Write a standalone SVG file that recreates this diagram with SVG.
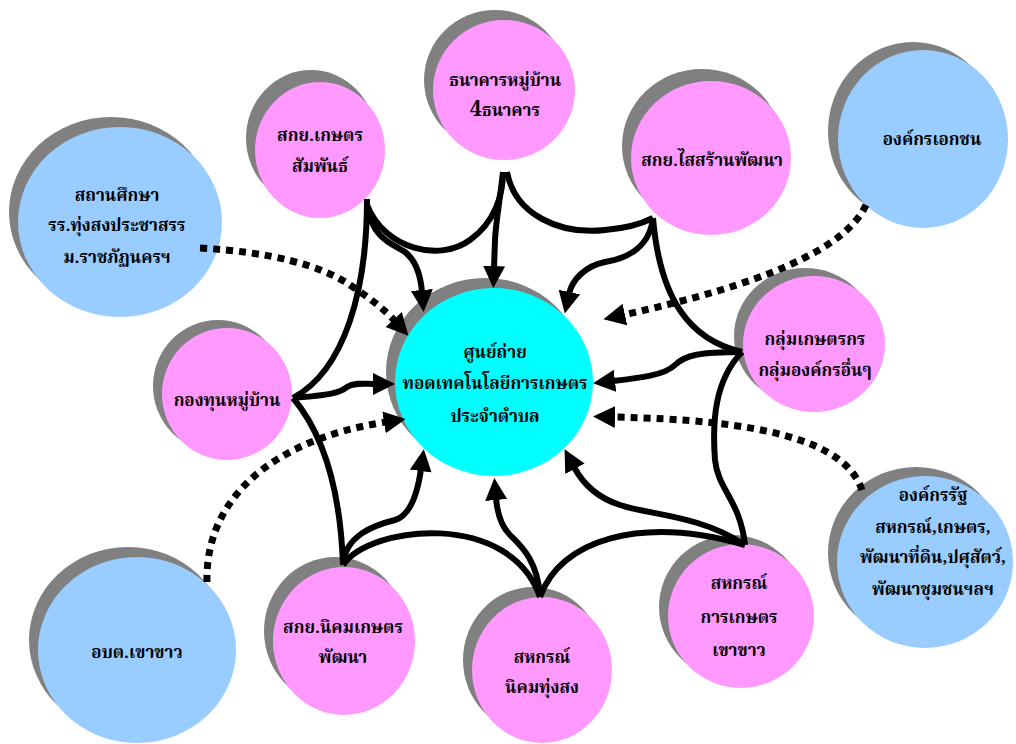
<svg xmlns="http://www.w3.org/2000/svg" width="1016" height="744" viewBox="0 0 1016 744">
<defs>
<style>
.sh{fill:#808080}
.pk{fill:#FF99FF}
.bl{fill:#99CCFF}
.cy{fill:#00FFFF}
text{font-family:"Noto Serif Thai","Noto Sans Thai Looped","Noto Sans Thai","Liberation Serif",serif;font-weight:bold;font-size:17px;fill:#000;text-anchor:middle}
.ln{fill:none;stroke:#000;stroke-width:6}
.dt{fill:none;stroke:#000;stroke-width:7;stroke-dasharray:7 6}
</style>
<marker id="ah" markerUnits="userSpaceOnUse" markerWidth="24" markerHeight="24" refX="2" refY="11" orient="auto" viewBox="0 0 24 22">
<path d="M0,0 L22,11 L0,22 z" fill="#000"/>
</marker>
</defs>
<rect width="1016" height="744" fill="#fff"/>

<g id="n-sathansueksa">
<ellipse class="sh" cx="111" cy="212" rx="102" ry="95"/>
<ellipse class="bl" cx="120" cy="222" rx="102" ry="95"/>
<text x="117" y="201">สถานศึกษา</text>
<text x="117" y="231">รร.ทุ่งสงประชาสรร</text>
<text x="117" y="263">ม.ราชภัฏนครฯ</text>
</g>

<g id="n-sakoy-kaset">
<ellipse class="sh" cx="311" cy="138" rx="65" ry="68"/>
<ellipse class="pk" cx="320" cy="150" rx="65" ry="68"/>
<text x="320" y="141">สกย.เกษตร</text>
<text x="320" y="172">สัมพันธ์</text>
</g>

<g id="n-thanakhan">
<ellipse class="sh" cx="495" cy="80" rx="71" ry="70"/>
<ellipse class="pk" cx="504" cy="90" rx="71" ry="70"/>
<text x="505" y="86">ธนาคารหมู่บ้าน</text>
<text x="505" y="116"><tspan font-size="21">4</tspan>ธนาคาร</text>
</g>

<g id="n-sakoy-saisan">
<ellipse class="sh" cx="702" cy="146" rx="80" ry="77"/>
<ellipse class="pk" cx="711" cy="158" rx="80" ry="77"/>
<text x="712" y="166">สกย.ไสสร้านพัฒนา</text>
</g>

<g id="n-ongkon-ekachon">
<ellipse class="sh" cx="913" cy="131" rx="85" ry="89"/>
<ellipse class="bl" cx="923" cy="139" rx="85" ry="89"/>
<text x="932" y="145">องค์กรเอกชน</text>
</g>

<g id="n-kongthun">
<ellipse class="sh" cx="218" cy="386" rx="65" ry="66"/>
<ellipse class="pk" cx="227" cy="394" rx="65" ry="66"/>
<text x="227" y="406">กองทุนหมู่บ้าน</text>
</g>

<g id="n-center">
<ellipse class="sh" cx="485" cy="372" rx="99" ry="94"/>
<ellipse class="cy" cx="494" cy="382" rx="99" ry="94"/>
<text x="495" y="358">ศูนย์ถ่าย</text>
<text x="495" y="389">ทอดเทคโนโลยีการเกษตร</text>
<text x="495" y="422">ประจำตำบล</text>
</g>

<g id="n-klum">
<ellipse class="sh" cx="805" cy="336" rx="71" ry="68"/>
<ellipse class="pk" cx="814" cy="344" rx="71" ry="68"/>
<text x="815" y="345">กลุ่มเกษตรกร</text>
<text x="815" y="376">กลุ่มองค์กรอื่นๆ</text>
</g>

<g id="n-ongkon-rat">
<ellipse class="sh" cx="916" cy="553" rx="88" ry="86"/>
<ellipse class="bl" cx="925" cy="562" rx="88" ry="86"/>
<text x="933" y="501">องค์กรรัฐ</text>
<text x="933" y="533">สหกรณ์,เกษตร,</text>
<text x="933" y="563">พัฒนาที่ดิน,ปศุสัตว์,</text>
<text x="933" y="595">พัฒนาชุมชนฯลฯ</text>
</g>

<g id="n-obt">
<ellipse class="sh" cx="128" cy="640" rx="99" ry="93"/>
<ellipse class="bl" cx="137" cy="650" rx="99" ry="93"/>
<text x="137" y="658">อบต.เขาขาว</text>
</g>

<g id="n-sakoy-nikhom">
<ellipse class="sh" cx="335" cy="631" rx="71" ry="74"/>
<ellipse class="pk" cx="344" cy="641" rx="71" ry="74"/>
<text x="343" y="633">สกย.นิคมเกษตร</text>
<text x="343" y="663">พัฒนา</text>
</g>

<g id="n-sahakon-nikhom">
<ellipse class="sh" cx="533" cy="660" rx="70" ry="73"/>
<ellipse class="pk" cx="542" cy="670" rx="70" ry="73"/>
<text x="542" y="663">สหกรณ์</text>
<text x="542" y="693">นิคมทุ่งสง</text>
</g>

<g id="n-sahakon-kaset">
<ellipse class="sh" cx="732" cy="607" rx="73" ry="72"/>
<ellipse class="pk" cx="741" cy="616" rx="73" ry="72"/>
<text x="739" y="589">สหกรณ์</text>
<text x="739" y="623">การเกษตร</text>
<text x="739" y="656">เขาขาว</text>
</g>

<g id="connectors">
<path class="ln" d="M367,199 C367,290 345,370 293,398"/>
<path class="ln" d="M367,205 C385,250 440,262 470,240 C495,222 503,195 503,172"/>
<path class="ln" d="M507,172 C515,215 560,235 605,230 C630,228 645,222 653,218"/>
<path class="ln" d="M653,218 C660,300 690,340 742,352"/>
<path class="ln" d="M742,352 C715,380 712,420 715,460 C718,490 740,500 745,545"/>
<path class="ln" d="M540,597 C560,540 640,515 745,545"/>
<path class="ln" d="M343,565 C370,525 510,510 540,597"/>
<path class="ln" d="M293,398 C320,430 340,480 343,565"/>

<path class="ln" marker-end="url(#ah)" d="M367,205 C372,240 395,245 405,252 C418,262 421,280 422,292"/>
<path class="ln" marker-end="url(#ah)" d="M503,172 C500,200 496,220 495,240 L494,268"/>
<path class="ln" marker-end="url(#ah)" d="M653,218 C650,245 630,258 605,262 C585,266 572,280 569,294"/>
<path class="ln" marker-end="url(#ah)" d="M742,352 C700,352 685,355 675,365 C665,375 640,378 613,381"/>
<path class="ln" marker-end="url(#ah)" d="M745,545 C700,515 650,515 620,505 C595,497 582,482 574,467"/>
<path class="ln" marker-end="url(#ah)" d="M540,597 C538,560 520,545 510,535 C500,525 497,510 496,498"/>
<path class="ln" marker-end="url(#ah)" d="M343,565 C345,535 375,525 395,520 C412,515 418,490 421,469"/>
<path class="ln" marker-end="url(#ah)" d="M293,398 C330,395 340,393 347,387 C355,382 365,384 375,384"/>

<path class="dt" marker-end="url(#ah)" d="M200,248 C270,252 320,265 350,285 C370,298 385,310 395,321"/>
<path class="dt" marker-end="url(#ah)" d="M207,582 C205,500 270,440 386,422"/>
<path class="dt" marker-end="url(#ah)" d="M866,205 C845,250 760,285 623,315"/>
<path class="dt" marker-end="url(#ah)" d="M862,490 C845,440 760,420 613,417"/>
</g>
</svg>
